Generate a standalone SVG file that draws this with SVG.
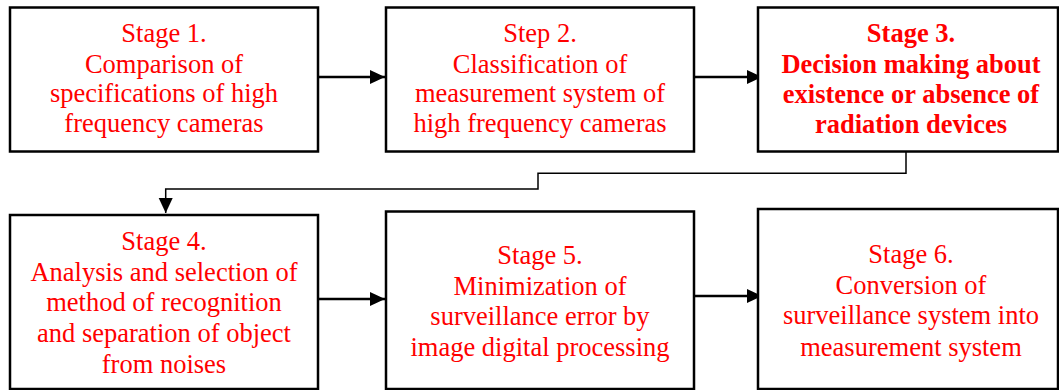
<svg xmlns="http://www.w3.org/2000/svg" width="1059" height="390" viewBox="0 0 1059 390">
<style>
.box{fill:#fff;stroke:#000;stroke-width:2.5}
.t{font-family:"Liberation Serif","Times New Roman",serif;font-size:26.5px;fill:#ff0000;text-anchor:middle}
.b{font-weight:bold}
.c{fill:none;stroke:#000}
.a{stroke-width:2.5}
.l{stroke-width:1.5}
</style>
<defs>
<marker id="ah" markerUnits="userSpaceOnUse" markerWidth="16" markerHeight="16" viewBox="0 0 16 16" refX="15" refY="7.5" orient="auto">
<path d="M0,0.5 L15,7.5 L0,14.5 Z" fill="#000"/>
</marker>
</defs>
<rect width="1059" height="390" fill="#fff"/>
<g id="connectors">
<path class="c a" d="M318,77 H385" marker-end="url(#ah)"/>
<path class="c a" d="M694,77 H762" marker-end="url(#ah)"/>
<path class="c l" d="M906,152 V173.3 H538 V189 H165.7 V213" marker-end="url(#ah)"/>
<path class="c a" d="M318,299 H385" marker-end="url(#ah)"/>
<path class="c a" d="M694,296 H762" marker-end="url(#ah)"/>
</g>
<g id="stage1">
<rect class="box" x="10" y="7.5" width="308" height="144"/>
<text class="t" x="164" y="42">Stage 1.</text>
<text class="t" x="164" y="72.5">Comparison of</text>
<text class="t" x="164" y="102">specifications of high</text>
<text class="t" x="164" y="132">frequency cameras</text>
</g>
<g id="stage2">
<rect class="box" x="386" y="7.5" width="308" height="144"/>
<text class="t" x="540" y="42">Step 2.</text>
<text class="t" x="540" y="72.5">Classification of</text>
<text class="t" x="540" y="102">measurement system of</text>
<text class="t" x="540" y="132">high frequency cameras</text>
</g>
<g id="stage3">
<rect class="box" x="758" y="7.5" width="300" height="144"/>
<text class="t b" x="911" y="42">Stage 3.</text>
<text class="t b" x="911" y="73">Decision making about</text>
<text class="t b" x="911" y="102.5">existence or absence of</text>
<text class="t b" x="911" y="133">radiation devices</text>
</g>
<g id="stage4">
<rect class="box" x="10" y="215" width="308" height="174"/>
<text class="t" x="164" y="250">Stage 4.</text>
<text class="t" x="164" y="280.5">Analysis and selection of</text>
<text class="t" x="164" y="310.5">method of recognition</text>
<text class="t" x="164" y="341.5">and separation of object</text>
<text class="t" x="164" y="372.5">from noises</text>
</g>
<g id="stage5">
<rect class="box" x="386" y="211.5" width="308" height="177.5"/>
<text class="t" x="540" y="264">Stage 5.</text>
<text class="t" x="540" y="294.5">Minimization of</text>
<text class="t" x="540" y="325">surveillance error by</text>
<text class="t" x="540" y="355.5">image digital processing</text>
</g>
<g id="stage6">
<rect class="box" x="758" y="209" width="300" height="180"/>
<text class="t" x="911" y="263">Stage 6.</text>
<text class="t" x="911" y="293.5">Conversion of</text>
<text class="t" x="911" y="324">surveillance system into</text>
<text class="t" x="911" y="355.5">measurement system</text>
</g>
</svg>
